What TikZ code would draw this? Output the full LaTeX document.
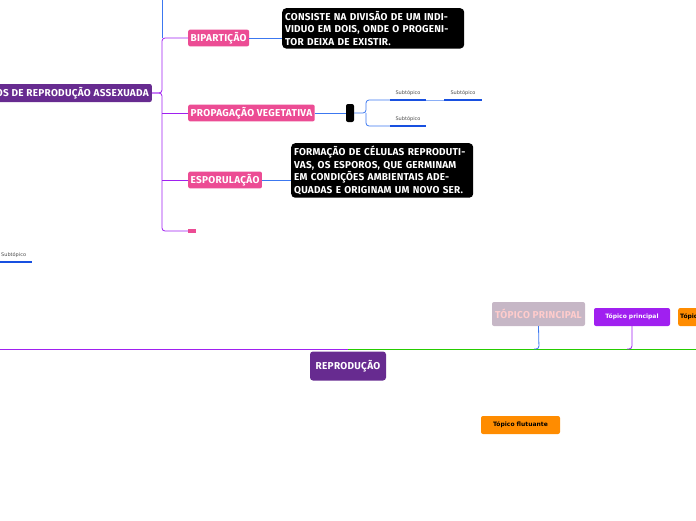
\documentclass[tikz,border=0pt]{standalone}
\usepackage{fontspec}
\setmainfont{Fira Sans}
\newfontfamily\smallf{DejaVu Sans}
\begin{document}
\begin{tikzpicture}[x=1pt,y=-1pt,
  deco/.style={font=\fontsize{10}{11}\selectfont\bfseries\addfontfeatures{LetterSpace=3}},
  pinkbox/.style={fill=pinkc,rounded corners=2pt,text=white,deco,inner sep=2.5pt,anchor=west},
  blackbox/.style={fill=black,rounded corners=4pt,text=white,anchor=north west,align=left,text width=176pt,inner sep=3pt,font=\fontsize{10}{12.5}\selectfont\bfseries\addfontfeatures{LetterSpace=2}},
  sub/.style={font=\smallf\fontsize{5}{6}\selectfont,inner sep=1pt,text=black!70},
  ul/.style={line width=2pt,blueu},
  purl/.style={purplec,line width=0.8pt,rounded corners=3pt},
  bl/.style={bluec,line width=0.8pt,rounded corners=3pt},
  orangebox/.style={fill=orange!90!yellow,rounded corners=2pt,font=\smallf\fontsize{6}{7}\selectfont\bfseries,inner sep=4pt}]
\definecolor{pinkc}{HTML}{EC4C94}
\definecolor{purplec}{HTML}{A020F0}
\definecolor{bluec}{HTML}{3C78F0}
\definecolor{blueu}{HTML}{1850E0}
\definecolor{mainp}{HTML}{672B90}
\useasboundingbox (0,0) rectangle (696,520);
\node[fill=mainp,text=white,deco,rounded corners=2pt,anchor=east,minimum height=18pt,inner sep=3pt] (tipos) at (152,93) {TIPOS DE REPRODUÇÃO ASSEXUADA};
\node[pinkbox] (bip) at (188,38) {BIPARTIÇÃO};
\node[pinkbox] (prop) at (188,113) {PROPAGAÇÃO VEGETATIVA};
\node[pinkbox] (esp) at (188,180) {ESPORULAÇÃO};
\node[fill=pinkc,minimum width=8pt,minimum height=4pt,inner sep=0pt,anchor=west] (emp) at (188,231) {};
\coordinate (top) at (162,0);
\draw[bluec,line width=0.8pt] (top) -- (162,38);
\draw[purl] (tipos.east) -| (162,38) -- (bip.west);
\draw[purl] (tipos.east) -| (162,231) -- (emp.west);
\draw[purl] (162,113) -- (prop.west);
\draw[purl] (162,180) -- (esp.west);
\node[blackbox] (b1) at (282,8) {CONSISTE NA DIVISÃO DE UM INDIVIDUO EM DOIS, ONDE O PROGENITOR DEIXA DE EXISTIR.\\[10pt]};
\node[blackbox] (b2) at (291,143) {FORMAÇÃO DE CÉLULAS REPRODUTIVAS, OS ESPOROS, QUE GERMINAM EM CONDIÇÕES AMBIENTAIS ADEQUADAS E ORIGINAM UM NOVO SER.\\[8pt]};
\draw[bl] (bip.east) -- (b1.west |- bip.east);
\draw[bl] (esp.east) -- (b2.west |- esp.east);
\node[fill=black,rounded corners=2pt,minimum width=8pt,minimum height=18pt,inner sep=0pt] (blk) at (350,113) {};
\draw[bl] (prop.east) -- (blk.west);
\node[sub] (s1) at (408,93) {Subtópico};
\node[sub] (s2) at (408,119) {Subtópico};
\node[sub] (s3) at (463,93) {Subtópico};
\coordinate (u1a) at (390,100); \coordinate (u1b) at (426,100);
\coordinate (u2a) at (390,126); \coordinate (u2b) at (426,126);
\coordinate (u3a) at (444,100); \coordinate (u3b) at (482,100);
\draw[bl] (blk.east) -- (366,113) |- (u1a);
\draw[bl] (366,113) |- (u2a);
\draw[ul] (u1a) -- (u1b); \draw[ul] (u2a) -- (u2b); \draw[ul] (u3a) -- (u3b);
\draw[bluec!60,line width=0.6pt] (u1b) -- (u3a);
\node[sub,anchor=west] (s4) at (0,255) {Subtópico};
\coordinate (u4a) at (0,262); \coordinate (u4b) at (32,262);
\draw[ul] (u4a) -- (u4b);
\node[fill=mainp,text=white,deco,rounded corners=3pt,minimum width=76pt,minimum height=29pt,inner sep=2pt] (rep) at (348,366) {REPRODUÇÃO};
\coordinate (hl) at (0,349); \coordinate (hr) at (696,349); \coordinate (hm) at (348,349);
\draw[purplec,line width=0.8pt] (hl) -- (hm);
\draw[green!75!black!80!lime,line width=0.8pt] (hm) -- (hr);
\node[fill=violet!25!gray!45,text=pink!80,deco,rounded corners=2pt,minimum width=93pt,minimum height=24pt,inner sep=2pt] (tp) at (538.5,314) {TÓPICO PRINCIPAL};
\node[fill=purplec,text=white,rounded corners=2pt,font=\smallf\fontsize{6}{7}\selectfont\bfseries,minimum width=76pt,minimum height=18pt,inner sep=2pt] (tp2) at (632,317) {Tópico principal};
\node[orangebox,anchor=west,minimum height=18pt,inner sep=2pt] (tp3) at (678,317) {Tópico principal};
\draw[bl] (tp.south) -- (539,349) -- (534,349);
\draw[purl] (tp2.south) -- (632,349) -- (627,349);
\node[orangebox,minimum width=79pt,minimum height=18pt,inner sep=2pt] (flu) at (520.5,425) {Tópico flutuante};
\end{tikzpicture}
\end{document}
